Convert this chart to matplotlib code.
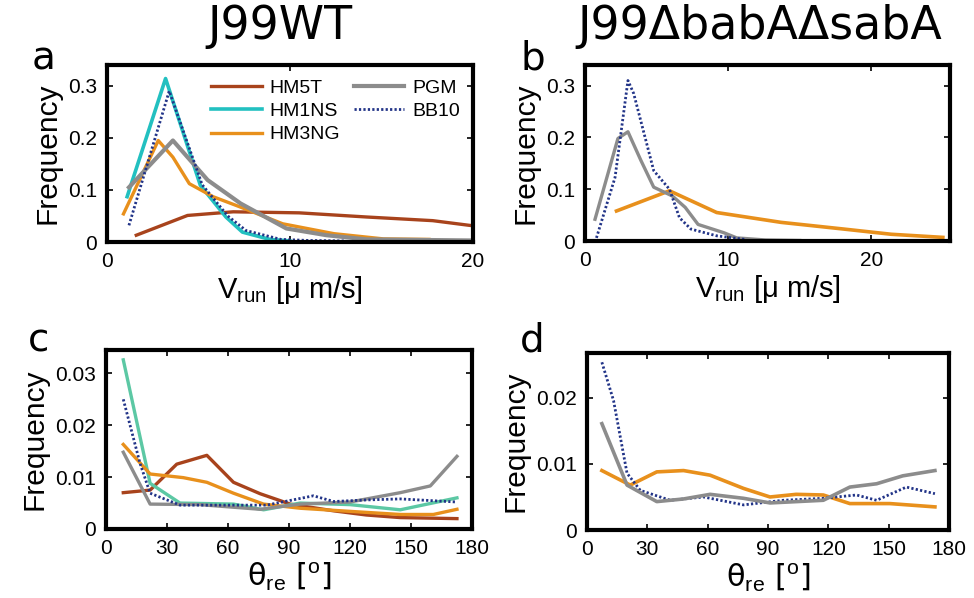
import numpy as np
import matplotlib.pyplot as plt

plt.rcParams['font.family'] = ['Liberation Sans', 'DejaVu Sans']
plt.rcParams['mathtext.fontset'] = 'custom'
plt.rcParams['mathtext.rm'] = 'Liberation Sans'
plt.rcParams['mathtext.it'] = 'Liberation Sans:italic'

# colours
c_hm5t = '#a8431c'
c_hm1ns = '#22c0c0'
c_hm1ns_c = '#5cc8a4'
c_hm3ng = '#e8901c'
c_pgm = '#8c8c8c'
c_bb10 = '#223488'

# panel a: run speed, J99WT
a_hm5t_x = [1.6, 4.4, 6.9, 10.5, 14.2, 17.8, 19.8, 21.0]
a_hm5t_y = [0.013, 0.051, 0.058, 0.056, 0.048, 0.041, 0.032, 0.028]
a_hm1ns_x = [1.1, 3.2, 5.1, 6.5, 7.4, 8.9, 10.0]
a_hm1ns_y = [0.087, 0.314, 0.109, 0.048, 0.019, 0.005, 0.002]
a_hm3ng_x = [0.9, 2.8, 3.6, 4.5, 5.8, 7.3, 9.6, 12.4, 15.1, 17.6]
a_hm3ng_y = [0.054, 0.195, 0.163, 0.112, 0.087, 0.067, 0.035, 0.016, 0.006, 0.005]
a_pgm_x = [1.2, 3.6, 5.5, 7.3, 9.8, 12.0, 14.2, 19.8]
a_pgm_y = [0.105, 0.195, 0.119, 0.074, 0.026, 0.013, 0.005, 0.003]
a_bb10_x = [1.2, 3.4, 5.2, 6.6, 7.6, 9.5, 11.0, 13.0]
a_bb10_y = [0.032, 0.290, 0.110, 0.050, 0.022, 0.005, 0.003, 0.002]

# panel b: run speed, J99 babA sabA
b_pgm_x = [0.7, 2.3, 3.0, 3.9, 4.8, 6.1, 7.0, 7.9, 9.7, 10.6, 12.6, 15.0]
b_pgm_y = [0.042, 0.198, 0.211, 0.156, 0.104, 0.087, 0.065, 0.032, 0.016, 0.006, 0.002, 0.001]
b_bb10_x = [0.8, 2.1, 3.0, 3.4, 4.8, 5.9, 6.6, 7.4, 9.2, 11.2]
b_bb10_y = [0.006, 0.123, 0.310, 0.285, 0.136, 0.100, 0.045, 0.023, 0.010, 0.003]
b_hm3ng_x = [2.2, 5.9, 9.2, 13.7, 18.1, 21.4, 25.0]
b_hm3ng_y = [0.058, 0.097, 0.055, 0.036, 0.023, 0.013, 0.007]

# panel c: reorientation angle, J99WT
c_hm5t_x = [8.5, 21.7, 34.8, 49.6, 62.7, 75.8, 90.6, 112, 128, 144.7, 172.6]
c_hm5t_y = [0.0070, 0.0075, 0.0125, 0.0142, 0.0090, 0.0068, 0.0048, 0.0035, 0.0027, 0.0022, 0.0020]
c_hm1ns_x = [8.5, 21.7, 36.4, 62.7, 77.5, 95.5, 120, 144.7, 172.6]
c_hm1ns_y = [0.0326, 0.0088, 0.0050, 0.0048, 0.0037, 0.0050, 0.0047, 0.0037, 0.0060]
c_hm3ng_x = [8.5, 21.7, 38.0, 49.6, 62.7, 77.5, 95.5, 120, 144.7, 161, 172.6]
c_hm3ng_y = [0.0163, 0.0106, 0.0099, 0.0090, 0.0069, 0.0048, 0.0040, 0.0034, 0.0028, 0.0028, 0.0038]
c_pgm_x = [8.5, 21.7, 46, 75.8, 95.5, 120, 144.7, 159.5, 172.6]
c_pgm_y = [0.0148, 0.0048, 0.0047, 0.0038, 0.0048, 0.0052, 0.0070, 0.0083, 0.0140]
c_bb10_x = [8.5, 16.7, 21.7, 36.4, 62.7, 79, 102, 112, 128, 144.7, 172.6]
c_bb10_y = [0.0250, 0.0127, 0.0069, 0.0046, 0.0046, 0.0046, 0.0064, 0.0053, 0.0056, 0.0058, 0.0052]

# panel d: reorientation angle, J99 babA sabA
d_pgm_x = [7.4, 19.9, 34.7, 48, 61.2, 77.8, 91, 117.5, 130.7, 144, 157, 173]
d_pgm_y = [0.0161, 0.0068, 0.0043, 0.0047, 0.0054, 0.0048, 0.0041, 0.0045, 0.0065, 0.0070, 0.0082, 0.0090]
d_bb10_x = [7.4, 13.2, 19.9, 26.5, 41.4, 58, 77.8, 97.6, 117.5, 134, 144, 158.8, 173]
d_bb10_y = [0.0254, 0.0196, 0.0086, 0.0060, 0.0045, 0.0050, 0.0038, 0.0045, 0.0048, 0.0053, 0.0045, 0.0065, 0.0055]
d_hm3ng_x = [7.4, 21.5, 34.7, 48, 61.2, 77.8, 91, 104, 117.5, 130.7, 150.6, 173]
d_hm3ng_y = [0.0090, 0.0068, 0.0088, 0.0090, 0.0083, 0.0063, 0.0050, 0.0054, 0.0053, 0.0040, 0.0040, 0.0035]

W, H = 974, 598
fig = plt.figure(figsize=(W / 100, H / 100), dpi=100)

def box(l, r, t, b):
    return [l / W, 1 - b / H, (r - l) / W, (b - t) / H]

ax_a = fig.add_axes(box(107, 473, 65, 242))
ax_b = fig.add_axes(box(585, 950, 65, 241))
ax_c = fig.add_axes(box(106, 472, 350, 529))
ax_d = fig.add_axes(box(587, 949, 353, 530))

dot = (0, (0.8, 0.8))

# a
ax_a.plot(a_hm5t_x, a_hm5t_y, color=c_hm5t, lw=2.4, label='HM5T')
ax_a.plot(a_hm1ns_x, a_hm1ns_y, color=c_hm1ns, lw=2.6, label='HM1NS')
ax_a.plot(a_hm3ng_x, a_hm3ng_y, color=c_hm3ng, lw=2.4, label='HM3NG')
ax_a.plot(a_pgm_x, a_pgm_y, color=c_pgm, lw=3, label='PGM')
ax_a.plot(a_bb10_x, a_bb10_y, color=c_bb10, lw=2, ls=dot, label='BB10')

# b
ax_b.plot(b_hm3ng_x, b_hm3ng_y, color=c_hm3ng, lw=2.6)
ax_b.plot(b_pgm_x, b_pgm_y, color=c_pgm, lw=2.4)
ax_b.plot(b_bb10_x, b_bb10_y, color=c_bb10, lw=2, ls=dot)

# c
ax_c.plot(c_hm5t_x, c_hm5t_y, color=c_hm5t, lw=2.4)
ax_c.plot(c_hm1ns_x, c_hm1ns_y, color=c_hm1ns_c, lw=2.4)
ax_c.plot(c_hm3ng_x, c_hm3ng_y, color=c_hm3ng, lw=2.4)
ax_c.plot(c_pgm_x, c_pgm_y, color=c_pgm, lw=2.4)
ax_c.plot(c_bb10_x, c_bb10_y, color=c_bb10, lw=2, ls=dot)

# d
ax_d.plot(d_hm3ng_x, d_hm3ng_y, color=c_hm3ng, lw=2.6)
ax_d.plot(d_bb10_x, d_bb10_y, color=c_bb10, lw=2, ls=dot)
ax_d.plot(d_pgm_x, d_pgm_y, color=c_pgm, lw=2.6)

ax_a.set_xlim(0, 20)
ax_a.set_ylim(0, 0.34)
ax_a.set_xticks([0, 10, 20])
ax_a.set_yticks([0, 0.1, 0.2, 0.3], ['0', '0.1', '0.2', '0.3'])

ax_b.set_xlim(0, 25.5)
ax_b.set_ylim(0, 0.34)
ax_b.set_xticks([0, 10, 20])
ax_b.set_yticks([0, 0.1, 0.2, 0.3], ['0', '0.1', '0.2', '0.3'])

ax_c.set_xlim(0, 180)
ax_c.set_ylim(0, 0.0345)
ax_c.set_xticks(range(0, 181, 30))
ax_c.set_yticks([0, 0.01, 0.02, 0.03], ['0', '0.01', '0.02', '0.03'])

ax_d.set_xlim(0, 180)
ax_d.set_ylim(0, 0.0268)
ax_d.set_xticks(range(0, 181, 30))
ax_d.set_yticks([0, 0.01, 0.02], ['0', '0.01', '0.02'])

for ax in (ax_a, ax_b):
    ax.set_xlabel('V$_{\\rm run}$ [μ m/s]', fontsize=21, labelpad=2)
for ax in (ax_c, ax_d):
    ax.set_xlabel('θ$_{\\rm re}$ [$^{\\rm o}$]', fontsize=22, labelpad=2,
                  family=['DejaVu Sans'])
for ax in (ax_a, ax_b, ax_c, ax_d):
    ax.set_ylabel('Frequency', fontsize=21.5, labelpad=5)
    ax.tick_params(direction='in', length=4, width=1.2, top=True, right=True,
                   labelsize=15, pad=7)
    for s in ax.spines.values():
        s.set_linewidth(3)

ax_a.legend(ncol=2, frameon=False, fontsize=14, loc='upper right',
            bbox_to_anchor=(0.985, 0.965), borderaxespad=0, handlelength=2.6,
            columnspacing=0.7, handletextpad=0.4, labelspacing=0.3)

fig.text(0.287, 0.955, 'J99WT', fontsize=33, family='DejaVu Sans', ha='center', va='center')
fig.text(0.780, 0.955, 'J99ΔbabAΔsabA', fontsize=33, family='DejaVu Sans', ha='center', va='center')
for letter, x, y in [('a', 32, 70), ('b', 520, 70), ('c', 28, 352), ('d', 520, 352)]:
    fig.text(x / W, 1 - y / H, letter, fontsize=28, family='DejaVu Sans', va='baseline')

fig.savefig('out.png', dpi=100)
